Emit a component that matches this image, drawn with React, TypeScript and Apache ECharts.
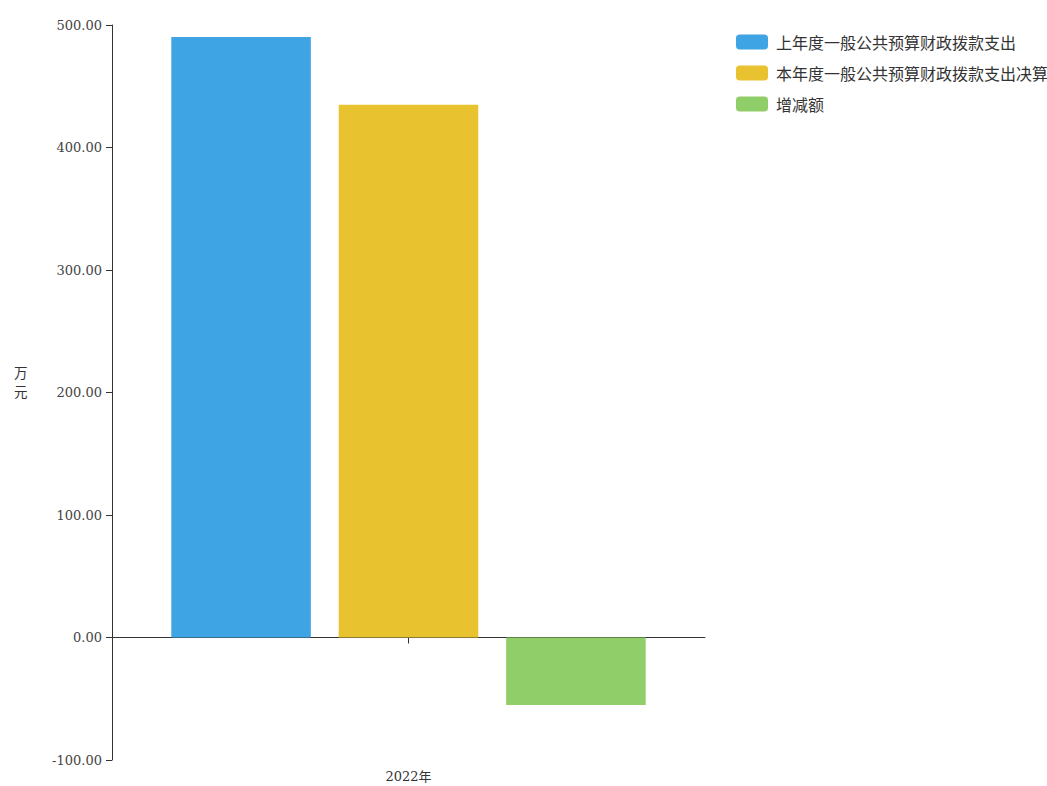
import React, { useEffect, useRef } from "react";
import * as echarts from "echarts";

const categories = ["2022年"];
const seriesNames = ["上年度一般公共预算财政拨款支出", "本年度一般公共预算财政拨款支出决算", "增减额"];
const lastYear = [490.2];
const thisYear = [435.0];
const change = [-55.2];
const colors = ["#3FA4E3", "#E9C230", "#8FCE68"];
const yUnitChars = ["万", "元"];

export default function App() {
  const ref = useRef<HTMLDivElement>(null);
  useEffect(() => {
    document.body.style.margin = "0";
    const chart = echarts.init(ref.current!, undefined, { renderer: "svg" });
    const serif = "'DejaVu Serif', 'Noto Sans CJK SC', serif";
    const sans = "'Noto Sans CJK SC', 'Noto Sans', sans-serif";
    chart.setOption({
      animation: false,
      backgroundColor: "#ffffff",
      color: colors,
      grid: { left: 112, right: 342, top: 25, bottom: 26, containLabel: false },
      legend: {
        orient: "vertical",
        left: 731,
        top: 29,
        itemWidth: 32,
        itemHeight: 15,
        itemGap: 15,
        icon: "roundRect",
        textStyle: { fontSize: 16, color: "#333", fontFamily: sans, padding: [0, 0, 0, 3] },
        data: seriesNames,
      },
      graphic: yUnitChars.map((c, i) => ({
        type: "text",
        left: 14,
        top: 365 + i * 19.5,
        style: { text: c, fontSize: 13.5, fill: "#333", fontFamily: sans },
      })),
      xAxis: [
        {
          type: "category",
          data: categories,
          axisLine: { onZero: true, lineStyle: { color: "#333", width: 1 } },
          axisTick: { show: true, alignWithLabel: true, length: 6, lineStyle: { color: "#333" } },
          axisLabel: { show: false },
        },
        {
          type: "category",
          data: categories,
          position: "bottom",
          axisLine: { show: false, onZero: false },
          axisTick: { show: false },
          axisLabel: { show: true, fontSize: 13, color: "#333", fontFamily: serif, margin: 10 },
        },
      ],
      yAxis: {
        type: "value",
        min: -100,
        max: 500,
        interval: 100,
        axisLine: { show: true, lineStyle: { color: "#333" } },
        axisTick: { show: true, length: 6, lineStyle: { color: "#333" } },
        splitLine: { show: false },
        axisLabel: {
          fontSize: 13,
          color: "#444",
          fontFamily: serif,
          margin: 10,
          formatter: (v: number) => v.toFixed(2),
        },
      },
      series: [
        { name: seriesNames[0], type: "bar", data: lastYear, barGap: "20%", barCategoryGap: "20%" },
        { name: seriesNames[1], type: "bar", data: thisYear, barGap: "20%", barCategoryGap: "20%" },
        { name: seriesNames[2], type: "bar", data: change, barGap: "20%", barCategoryGap: "20%" },
      ],
    });
    return () => chart.dispose();
  }, []);
  return <div ref={ref} style={{ width: 1047, height: 786, position: "absolute", left: 0, top: 0 }} />;
}
